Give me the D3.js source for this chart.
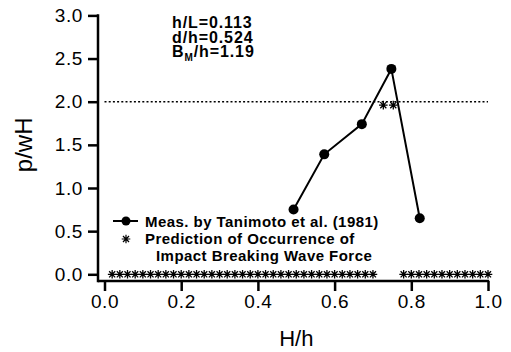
<!DOCTYPE html>
<html>
<head>
<meta charset="utf-8">
<script src="https://cdn.jsdelivr.net/npm/d3@7"></script>
<style>
  body { margin: 0; background: #fff; }
  svg { display: block; font-family: "Liberation Sans", Arial, Helvetica, sans-serif; }
</style>
</head>
<body>
<div id="chart"></div>
<script>
// tick values
var xTicks = [0.0, 0.2, 0.4, 0.6, 0.8, 1.0];
var yTicks = [0.0, 0.5, 1.0, 1.5, 2.0, 2.5, 3.0];

// measured by Tanimoto et al. (1981)
var measH = [0.493, 0.573, 0.671, 0.748, 0.822];
var measP = [0.75, 1.39, 1.74, 2.38, 0.65];

// predicted occurrence of impact breaking wave force
var predH = [0.02, 0.04, 0.06, 0.08, 0.10, 0.12, 0.14, 0.16, 0.18, 0.20,
             0.22, 0.24, 0.26, 0.28, 0.30, 0.32, 0.34, 0.36, 0.38, 0.40,
             0.42, 0.44, 0.46, 0.48, 0.50, 0.52, 0.54, 0.56, 0.58, 0.60,
             0.62, 0.64, 0.66, 0.68, 0.70,
             0.727, 0.753,
             0.78, 0.80, 0.82, 0.84, 0.86, 0.88, 0.90, 0.92, 0.94, 0.96, 0.98, 1.00];
var predP = [0, 0, 0, 0, 0, 0, 0, 0, 0, 0,
             0, 0, 0, 0, 0, 0, 0, 0, 0, 0,
             0, 0, 0, 0, 0, 0, 0, 0, 0, 0,
             0, 0, 0, 0, 0,
             1.96, 1.96,
             0, 0, 0, 0, 0, 0, 0, 0, 0, 0, 0, 0];

// reference level
var refP = 2.0;
var refH = [0.0, 1.0];

var annotation = ["h/L=0.113", "d/h=0.524"];

var width = 511, height = 352;
var margin = {top: 15.4, right: 23, bottom: 77.7, left: 104.5};

var x = d3.scaleLinear().domain([0, 1]).range([margin.left, width - margin.right]);
var y = d3.scaleLinear().domain([0, 3]).range([height - margin.bottom, margin.top]);

var axisX = 98;   // y axis line sits left of x=0
var axisY = 281;  // x axis line sits below y=0

var svg = d3.select("#chart").append("svg")
    .attr("width", width)
    .attr("height", height);

// y axis
var yAxis = svg.append("g")
    .attr("transform", "translate(" + axisX + ",0)")
    .call(d3.axisLeft(y).tickValues(yTicks).tickFormat(d3.format(".1f")).tickSize(10).tickPadding(5));
yAxis.select(".domain").remove();
yAxis.selectAll(".tick line").attr("stroke", "#000").attr("stroke-width", 2.5);
yAxis.selectAll(".tick text")
    .attr("font-size", 19).attr("letter-spacing", 0.6).attr("fill", "#000");
yAxis.append("line")
    .attr("x1", 0).attr("x2", 0)
    .attr("y1", y(3) - 1.2).attr("y2", axisY + 1.2)
    .attr("stroke", "#000").attr("stroke-width", 2.5);

// x axis
var xAxis = svg.append("g")
    .attr("transform", "translate(0," + axisY + ")")
    .call(d3.axisBottom(x).tickValues(xTicks).tickFormat(d3.format(".1f")).tickSize(10).tickPadding(4));
xAxis.select(".domain").remove();
xAxis.selectAll(".tick line").attr("stroke", "#000").attr("stroke-width", 2.5);
xAxis.selectAll(".tick text")
    .attr("font-size", 19).attr("letter-spacing", 0.6).attr("fill", "#000");
xAxis.append("line")
    .attr("x1", axisX).attr("x2", x(1) + 1.2)
    .attr("y1", 0).attr("y2", 0)
    .attr("stroke", "#000").attr("stroke-width", 2.5);

// axis titles
svg.append("text")
    .attr("x", x(0.5))
    .attr("y", 346)
    .attr("text-anchor", "middle")
    .attr("font-size", 22)
    .text("H/h");

svg.append("text")
    .attr("transform", "translate(32," + y(1.5) + ") rotate(-90)")
    .attr("text-anchor", "middle")
    .attr("font-size", 24)
    .text("p/wH");

// dotted reference line
svg.append("line")
    .attr("x1", x(refH[0])).attr("x2", x(refH[1]))
    .attr("y1", y(refP)).attr("y2", y(refP))
    .attr("stroke", "#000")
    .attr("stroke-width", 1.5)
    .attr("stroke-dasharray", "2,2.2");

// asterisk marker (8 arms)
function asterisk(r) {
    var p = d3.path();
    for (var i = 0; i < 4; i++) {
        var a = i * Math.PI / 4;
        p.moveTo(-r * Math.cos(a), -r * Math.sin(a));
        p.lineTo(r * Math.cos(a), r * Math.sin(a));
    }
    return p.toString();
}

svg.append("g")
    .selectAll("path")
    .data(predH)
    .join("path")
    .attr("transform", function(d, i) { return "translate(" + x(d) + "," + y(predP[i]) + ")"; })
    .attr("d", asterisk(4.3))
    .attr("stroke", "#000")
    .attr("stroke-width", 1.3)
    .attr("fill", "none");

// measured line + dots
var meas = measH.map(function(h, i) { return {h: h, p: measP[i]}; });
var line = d3.line()
    .x(function(d) { return x(d.h); })
    .y(function(d) { return y(d.p); });

svg.append("path")
    .attr("d", line(meas))
    .attr("fill", "none")
    .attr("stroke", "#000")
    .attr("stroke-width", 2);

svg.append("g")
    .selectAll("circle")
    .data(meas)
    .join("circle")
    .attr("cx", function(d) { return x(d.h); })
    .attr("cy", function(d) { return y(d.p); })
    .attr("r", 5)
    .attr("fill", "#000");

// parameter annotation
var ann = svg.append("g")
    .attr("font-size", 16).attr("font-weight", "bold")
    .attr("letter-spacing", 0.9).attr("fill", "#000");
ann.selectAll("text.ann")
    .data(annotation)
    .join("text")
    .attr("class", "ann")
    .attr("x", 172)
    .attr("y", function(d, i) { return 27.5 + i * 15; })
    .text(function(d) { return d; });
var bm = ann.append("text").attr("x", 172).attr("y", 57);
bm.append("tspan").text("B");
bm.append("tspan").attr("font-size", 10).attr("dy", 4).attr("fill", "#000").text("M");
bm.append("tspan").attr("dy", -4).text("/h=1.19");

// legend
var legend = svg.append("g")
    .attr("font-size", 15).attr("font-weight", "bold")
    .attr("letter-spacing", 0.45).attr("fill", "#000");
legend.append("line")
    .attr("x1", 113).attr("x2", 138)
    .attr("y1", 221).attr("y2", 221)
    .attr("stroke", "#000").attr("stroke-width", 2);
legend.append("circle")
    .attr("cx", 126).attr("cy", 221).attr("r", 4.5).attr("fill", "#000");
legend.append("text").attr("x", 145).attr("y", 226.5).text("Meas. by Tanimoto et al. (1981)");
legend.append("path")
    .attr("transform", "translate(126,239)")
    .attr("d", asterisk(4.3))
    .attr("stroke", "#000").attr("stroke-width", 1.2);
legend.append("text").attr("x", 145).attr("y", 244).text("Prediction of Occurrence of");
legend.append("text").attr("x", 156).attr("y", 260.5).text("Impact Breaking Wave Force");
</script>
</body>
</html>
